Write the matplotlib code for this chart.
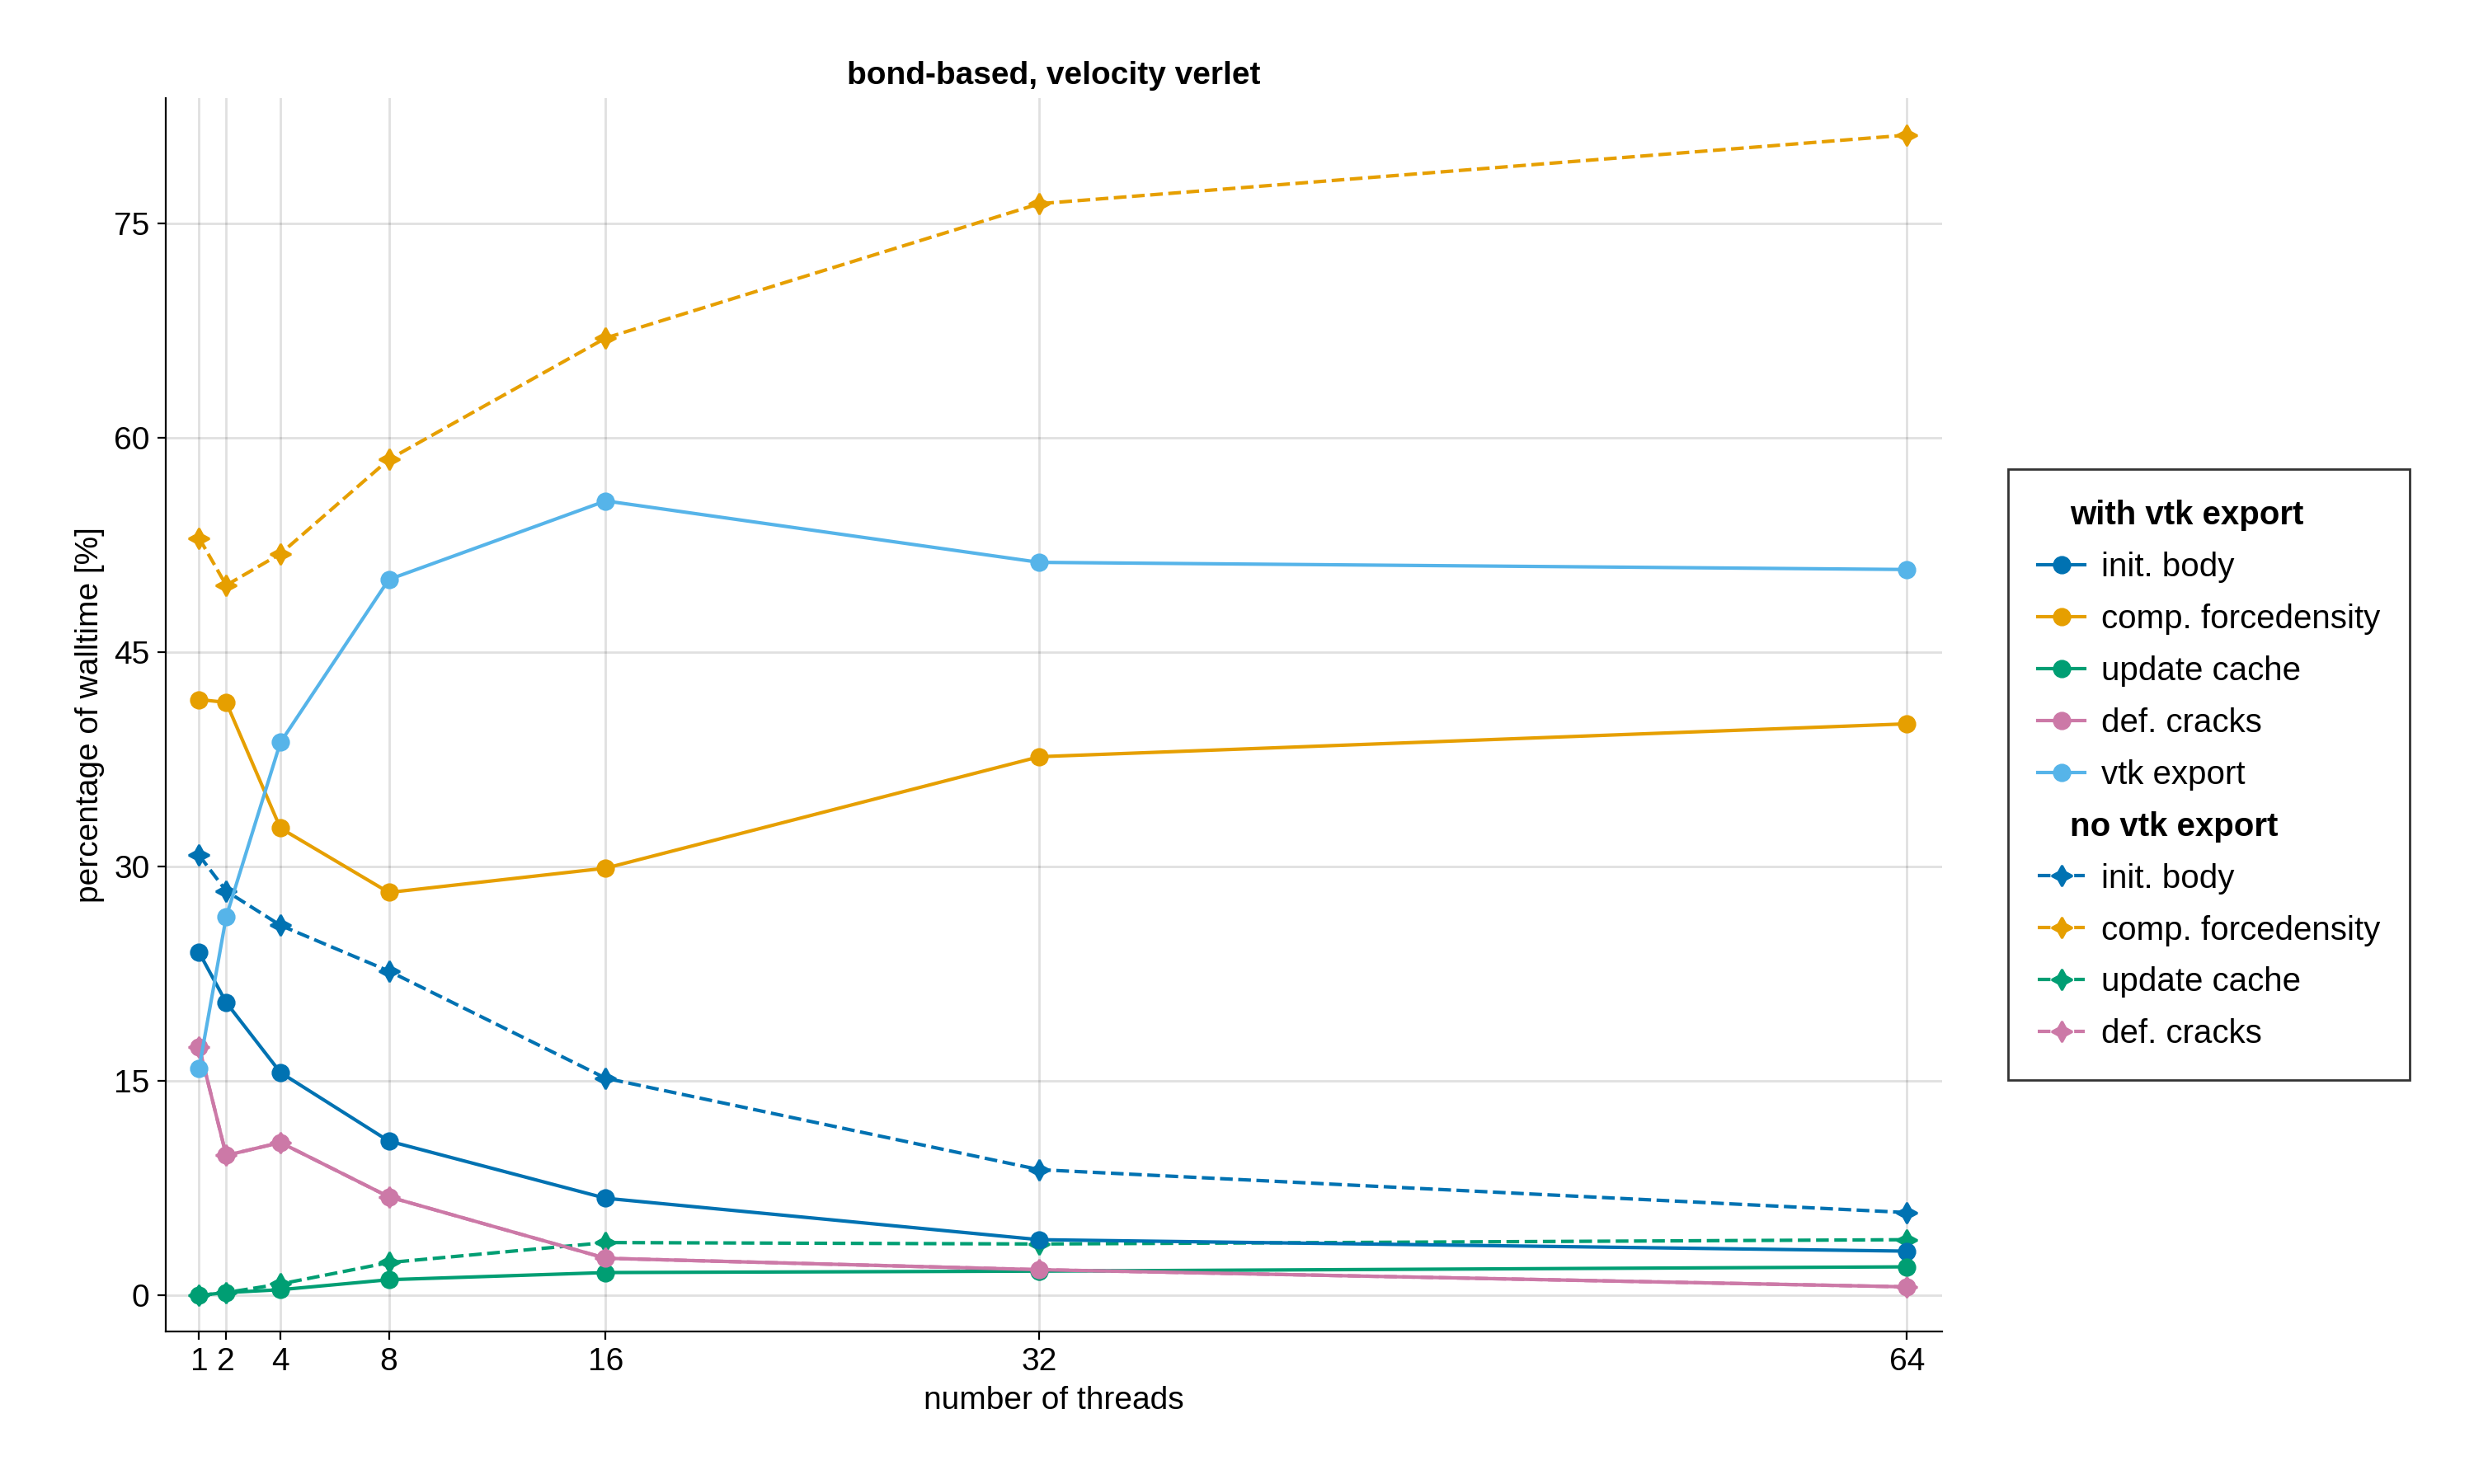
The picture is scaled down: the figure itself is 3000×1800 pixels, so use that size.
import matplotlib.pyplot as plt
from matplotlib.lines import Line2D

threads = [1, 2, 4, 8, 16, 32, 64]

vtk_init = [24.0, 20.5, 15.6, 10.8, 6.8, 3.9, 3.1]
vtk_force = [41.7, 41.5, 32.7, 28.2, 29.9, 37.7, 40.0]
vtk_cache = [0.0, 0.2, 0.4, 1.1, 1.6, 1.7, 2.0]
vtk_cracks = [17.4, 9.8, 10.7, 6.9, 2.6, 1.8, 0.6]
vtk_export = [15.9, 26.5, 38.7, 50.1, 55.6, 51.3, 50.8]

novtk_init = [30.8, 28.3, 25.9, 22.7, 15.2, 8.8, 5.8]
novtk_force = [53.0, 49.7, 51.9, 58.5, 67.0, 76.4, 81.2]
novtk_cache = [0.0, 0.2, 0.8, 2.3, 3.7, 3.6, 3.9]
novtk_cracks = [17.4, 9.8, 10.7, 6.9, 2.6, 1.8, 0.6]

labels = ["init. body", "comp. forcedensity", "update cache", "def. cracks", "vtk export"]
colors = ["#0072b2", "#e69f00", "#009e73", "#cc79a7", "#56b4e9"]
star = (4, 1, 0)

plt.rcParams["font.family"] = ["Liberation Sans", "DejaVu Sans"]
plt.rcParams["font.size"] = 13

fig = plt.figure(figsize=(15, 9), dpi=200)
ax = fig.add_axes([0.067, 0.103, 0.718, 0.831])

no_vtk = [novtk_init, novtk_force, novtk_cache, novtk_cracks]
for vals, c in zip(no_vtk, colors):
    ax.plot(threads, vals, "--", color=c, lw=1.5, marker=star, ms=9, zorder=3)
with_vtk = [vtk_init, vtk_force, vtk_cache, vtk_cracks, vtk_export]
for vals, c in zip(with_vtk, colors):
    ax.plot(threads, vals, "-", color=c, lw=1.5, marker="o", ms=7, zorder=3)

ax.set_xticks(threads)
ax.set_yticks([0, 15, 30, 45, 60, 75])
ax.set_xlim(-0.23, 65.3)
ax.set_ylim(-2.5, 83.8)
ax.grid(True, color="#000000", alpha=0.12, lw=1)
for s in ["top", "right"]:
    ax.spines[s].set_visible(False)
ax.tick_params(labelsize=14)
ax.set_xlabel("number of threads", fontsize=14)
ax.set_ylabel("percentage of walltime [%]", fontsize=14)
ax.set_title("bond-based, velocity verlet", fontsize=14, fontweight="bold")

h1 = [Line2D([], [], color=c, marker="o", ms=7, lw=1.5) for c in colors]
h2 = [Line2D([], [], color=c, marker=star, ms=9, lw=1.5, ls="--") for c in colors[:4]]
blank = Line2D([], [], lw=0)
handles = [blank] + h1 + [blank] + h2
labs = ["with vtk export"] + labels + ["no vtk export"] + labels[:4]
leg = fig.legend(handles, labs, loc="center left", bbox_to_anchor=(0.805, 0.478),
                 frameon=True, fancybox=False, edgecolor="black", fontsize=14.5,
                 handlelength=1.4, handletextpad=0.5, labelspacing=0.62, borderpad=0.9)
leg.get_frame().set_linewidth(1)
for i in (0, 6):
    t = leg.get_texts()[i]
    t.set_fontweight("bold")
    t.set_position((-38, 0))
# extra gap before second group
for j, t in enumerate(leg.get_texts()):
    pass

fig.savefig("out.png", dpi=200)
